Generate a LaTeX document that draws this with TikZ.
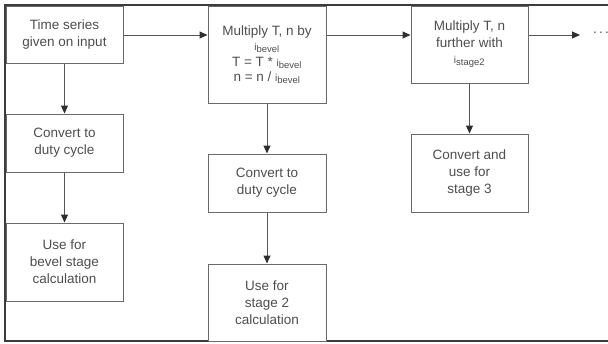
\documentclass[tikz,border=0pt]{standalone}
\usepackage{fontspec}
\setmainfont{Liberation Sans}
\usetikzlibrary{arrows.meta}
\definecolor{boxline}{HTML}{6A6A6A}
\definecolor{arrowline}{HTML}{555555}
\definecolor{tipfill}{HTML}{2E2E2E}
\definecolor{frameline}{HTML}{3C3C3C}
\definecolor{txt}{HTML}{4E4E4E}
\newcommand{\isub}[1]{{\fontsize{10}{12}\selectfont i}\textsubscript{#1}}
\tikzset{
  x=1pt, y=-1pt,
  stepbox/.style={draw=boxline, line width=1pt, fill=white, align=center,
    text=txt, inner sep=2pt, font=\fontsize{13.5}{17}\selectfont},
  flow/.style={draw=arrowline, line width=1pt,
    -{Triangle[length=8pt,width=7pt,color=tipfill]}},
}
\begin{document}
\begin{tikzpicture}
\useasboundingbox (0,0) rectangle (608,343);
% outer frame: left, top and bottom edges
\draw[frameline, line width=1.6pt] (608,5) -- (5,5) -- (5,341) -- (608,341);

% first column
\node[stepbox, minimum width=117pt, minimum height=57pt] (ts) at (64.5,34.5)
  {Time series\\given on input};
\node[stepbox, minimum width=117pt, minimum height=58pt] (dc1) at (64.5,143)
  {Convert to\\duty cycle};
\node[stepbox, minimum width=117pt, minimum height=78pt] (bev) at (64.5,262)
  {Use for\\bevel stage\\calculation};

% second column
\node[stepbox, minimum width=118pt, minimum height=97pt] (mul1) at (267,54.5)
  {Multiply T, n by\\[-2pt]\isub{bevel}\\[-1pt]T = T * \isub{bevel}\\[-2pt]n = n / \isub{bevel}};
\node[stepbox, minimum width=118pt, minimum height=58pt] (dc2) at (267,183)
  {Convert to\\duty cycle};
\node[stepbox, minimum width=118pt, minimum height=77pt] (st2) at (267,302.5)
  {Use for\\stage 2\\calculation};

% third column
\node[stepbox, minimum width=117pt, minimum height=77pt] (mul2) at (469.5,44.5)
  {Multiply T, n\\further with\\[-1pt]\isub{stage2}};
\node[stepbox, minimum width=117pt, minimum height=78pt] (st3) at (469.5,173)
  {Convert and\\use for\\stage 3};

\coordinate (cont) at (580,35);
\node[text=txt, font=\fontsize{13.5}{17}\selectfont, inner sep=0pt] (dots) at (601,33)
  {.\hspace{2.2pt}.\hspace{2.2pt}.};

% horizontal chain
\draw[flow] (ts.east |- cont) -- (mul1.west |- cont);
\draw[flow] (mul1.east |- cont) -- (mul2.west |- cont);
\draw[flow] (mul2.east |- cont) -- (cont);

% vertical chains
\draw[flow] (ts) -- (dc1);
\draw[flow] (dc1) -- (bev);
\draw[flow] (mul1) -- (dc2);
\draw[flow] (dc2) -- (st2);
\draw[flow] (mul2) -- (st3);
\end{tikzpicture}
\end{document}
